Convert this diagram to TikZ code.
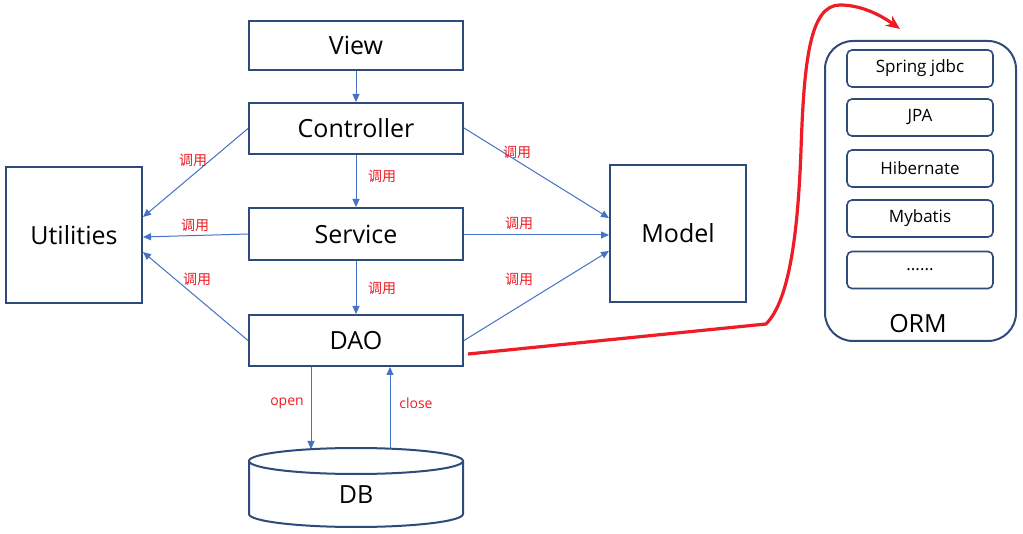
\documentclass[tikz,border=0pt]{standalone}
\usepackage{fontspec}
\setmainfont{Open Sans}
\newfontfamily\cjk{Noto Sans CJK SC}
\usetikzlibrary{arrows.meta}
\definecolor{boxc}{HTML}{2F4B7C}
\definecolor{arrc}{HTML}{4472C4}
\definecolor{lblc}{HTML}{EE1C25}
\tikzset{
  box/.style={draw=boxc, line width=2pt, rectangle, inner sep=0pt, align=center, font=\fontsize{25}{29}\selectfont},
  ormitem/.style={draw=boxc, line width=1.6pt, rectangle, rounded corners=5pt, minimum width=146pt, minimum height=37pt, inner sep=0pt, font=\fontsize{17}{20}\selectfont},
  conn/.style={draw=arrc, line width=1pt, -{Triangle[length=8pt,width=7pt]}},
  lbl/.style={text=lblc, font=\cjk\fontsize{14}{16}\selectfont, inner sep=0pt},
  elbl/.style={text=lblc, font=\fontsize{14}{16}\selectfont, inner sep=0pt},
  redarrow/.style={draw=lblc, line width=3.2pt, -{Stealth[length=14pt,width=12pt]}}
}
\begin{document}
\begin{tikzpicture}[x=1pt,y=-1pt]
\useasboundingbox[fill=white] (0,0) rectangle (1023,534);
% main column
\node[box, minimum width=214pt, minimum height=49pt] (view) at (356,45.5) {View};
\node[box, minimum width=214pt, minimum height=51pt] (ctrl) at (356,128.5) {Controller};
\node[box, minimum width=214pt, minimum height=52pt] (svc) at (356,234) {Service};
\node[box, minimum width=214pt, minimum height=51pt] (dao) at (356,340.5) {DAO};
\node[box, minimum width=136pt, minimum height=136pt] (util) at (74,235) {Utilities};
\node[box, minimum width=136pt, minimum height=137pt] (model) at (678,233.5) {Model};
% DB cylinder
\draw[boxc, line width=2pt] (249,461) -- (249,514) arc[start angle=180, end angle=360, x radius=107pt, y radius=13pt] -- (463,461);
\draw[boxc, line width=2pt, fill=white] (356,461) ellipse[x radius=107pt, y radius=13pt];
\node[font=\fontsize{25}{29}\selectfont] (db) at (356,495) {DB};
\coordinate (dbopen) at (311,449);
\coordinate (dbclose) at (390,449);
% ORM
\node[draw=boxc, line width=2pt, rounded corners=28pt, minimum width=191pt, minimum height=300pt] (orm) at (920.5,191) {};
\node[font=\fontsize{25}{29}\selectfont] (ormlbl) at (918,324) {ORM};
\node[ormitem] (jdbc) at (920,68.5) {Spring jdbc};
\node[ormitem] (jpa) at (920,117.5) {JPA};
\node[ormitem] (hib) at (920,168.5) {Hibernate};
\node[ormitem] (myb) at (920,218.5) {Mybatis};
\node[ormitem] (etc) at (920,270) {......};
% vertical arrows
\draw[conn] (view) -- (ctrl);
\draw[conn] (ctrl) -- (svc);
\draw[conn] (svc) -- (dao);
\node[lbl] at (382,176) {调用};
\node[lbl] at (382,288) {调用};
% to utilities
\draw[conn] (ctrl.west) -- ([yshift=18pt]util.east);
\draw[conn] (svc.west) -- ([yshift=-2pt]util.east);
\draw[conn] (dao.west) -- ([yshift=-17pt]util.east);
\node[lbl] at (193,160) {调用};
\node[lbl] at (195,225) {调用};
\node[lbl] at (197,279) {调用};
% to model
\draw[conn] ([yshift=0.5pt]ctrl.east) -- ([yshift=15.5pt]model.west);
\draw[conn] ([yshift=-1pt]svc.east) -- ([yshift=-1.5pt]model.west);
\draw[conn] (dao.east) -- ([yshift=-17.5pt]model.west);
\node[lbl] at (517,152) {调用};
\node[lbl] at (519,223) {调用};
\node[lbl] at (519,279) {调用};
% DB arrows
\draw[conn] ([xshift=-45pt]dao.south) -- (dbopen);
\draw[conn] (dbclose) -- ([xshift=34pt]dao.south);
\node[elbl] at (287,403) {open};
\node[elbl] at (416,403) {close};
% red arrow
\coordinate (ormtip) at (900,29);
\draw[redarrow] ([xshift=4pt,yshift=-13.5pt]dao.east) -- (766,324)
  .. controls (790,300) and (798,230) .. (801,150)
  .. controls (804,60) and (810,5) .. (840,5)
  .. controls (862,5) and (882,16) .. (ormtip);
\end{tikzpicture}
\end{document}
